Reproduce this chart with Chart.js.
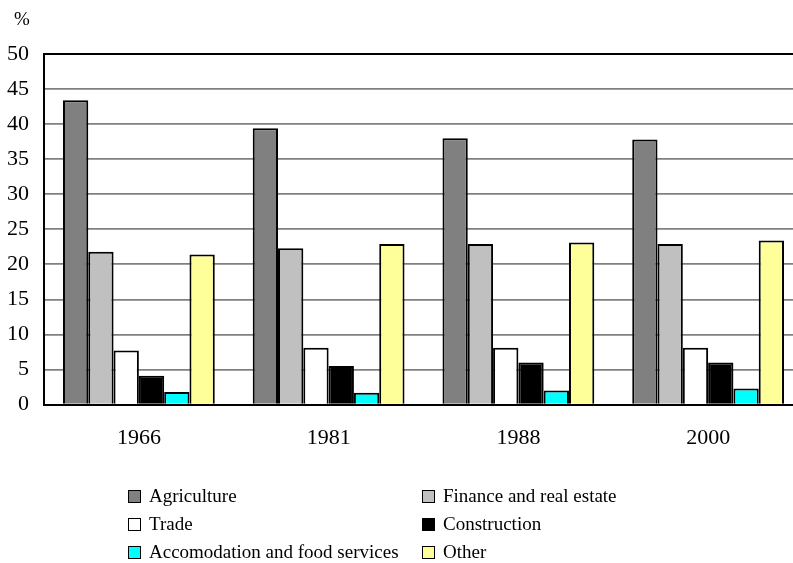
<!DOCTYPE html>
<html>
<head>
<meta charset="utf-8">
<script src="https://cdn.jsdelivr.net/npm/chart.js@4/dist/chart.umd.min.js"></script>
<style>
  html, body { margin: 0; padding: 0; background: #fff; overflow: hidden; }
  #wrap { position: relative; width: 803px; height: 563px; }
  #legend {
    position: absolute; left: 128px; top: 482px;
    display: grid; grid-template-columns: 294px auto;
    font-family: "Liberation Serif", "Times New Roman", serif;
    font-size: 19px; color: #000;
  }
  #legend .item { height: 28px; line-height: 28px; display: flex; align-items: center; white-space: nowrap; }
  #legend .box { width: 11px; height: 11px; border: 1.5px solid #000; margin-right: 8px; }
</style>
</head>
<body>
<div id="wrap">
  <canvas id="sectors"></canvas>
  <div id="legend"></div>
</div>
<script>
// share of each sector, %
const years = ["1966", "1981", "1988", "2000"];
const agriculture = [43.4, 39.4, 38.0, 37.8];
const finance = [21.8, 22.3, 22.9, 22.9];
const trade = [7.7, 8.1, 8.1, 8.1];
const construction = [4.1, 5.5, 6.0, 6.0];
const accommodation = [1.8, 1.7, 2.0, 2.3];
const other = [21.4, 22.9, 23.1, 23.4];
const yTicks = [0, 5, 10, 15, 20, 25, 30, 35, 40, 45, 50];

const serif = "'Liberation Serif', 'Times New Roman', serif";

function series(label, data, color) {
  return { label, data, backgroundColor: color, borderColor: "#000", borderWidth: 2 };
}

// "%" unit above the value axis
const unitLabel = {
  id: "unitLabel",
  afterDraw(chart) {
    const y = chart.scales.y;
    const c = chart.ctx;
    c.save();
    c.font = "19px " + serif;
    c.fillStyle = "#000";
    c.textAlign = "center";
    c.textBaseline = "middle";
    c.fillText("%", y.left + 22, 20);
    c.restore();
  }
};

const chart = new Chart(document.getElementById("sectors"), {
  type: "bar",
  data: {
    labels: years,
    datasets: [
      series("Agriculture", agriculture, "#808080"),
      series("Finance and real estate", finance, "#c0c0c0"),
      series("Trade", trade, "#ffffff"),
      series("Construction", construction, "#000000"),
      series("Accomodation and food services", accommodation, "#00ffff"),
      series("Other", other, "#ffff99")
    ]
  },
  options: {
    responsive: true,
    maintainAspectRatio: false,
    animation: false,
    layout: { padding: { top: 54, left: 0, right: 0, bottom: 100 } },
    datasets: { bar: { barPercentage: 1.0, categoryPercentage: 0.8 } },
    plugins: {
      legend: { display: false },
      tooltip: { enabled: false }
    },
    scales: {
      x: {
        grid: { display: false },
        border: { color: "#000", width: 2 },
        ticks: { color: "#000", font: { family: serif, size: 22 }, padding: 12, maxRotation: 0 }
      },
      y: {
        min: 0,
        max: 50,
        afterBuildTicks: s => { s.ticks = yTicks.map(v => ({ value: v })); },
        afterFit: s => { s.width = 44; },
        grid: {
          drawTicks: false,
          color: c => c.tick.value === 50 ? "#000" : "#808080",
          lineWidth: c => c.tick.value === 50 ? 2 : 1.8
        },
        border: { color: "#000", width: 2 },
        ticks: { color: "#000", font: { family: serif, size: 22 }, padding: 15 }
      }
    }
  },
  plugins: [unitLabel]
});

// two-column legend under the plot
const legend = document.getElementById("legend");
chart.data.datasets.forEach(ds => {
  const item = document.createElement("div");
  item.className = "item";
  const box = document.createElement("span");
  box.className = "box";
  box.style.background = ds.backgroundColor;
  item.appendChild(box);
  item.appendChild(document.createTextNode(ds.label));
  legend.appendChild(item);
});
</script>
</body>
</html>
